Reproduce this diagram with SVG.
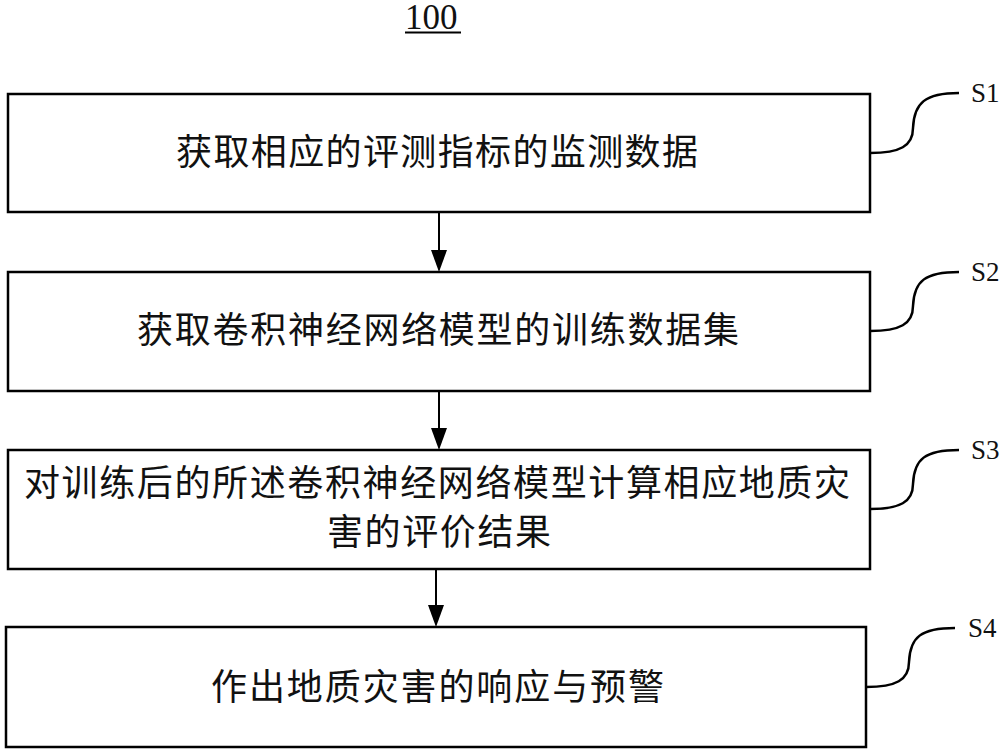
<svg xmlns="http://www.w3.org/2000/svg" width="1000" height="749" viewBox="0 0 1000 749">
<style>
.box{fill:#fff;stroke:#000;stroke-width:2.5}
.t{font-family:"Noto Sans CJK SC","Noto Sans",sans-serif;font-size:36px;fill:#111}
.lbl{font-family:"Liberation Serif","Times New Roman",serif;font-size:27px;fill:#111}
.lead{fill:none;stroke:#000;stroke-width:2.5}
.conn{stroke:#000;stroke-width:2;fill:none}
</style>
<rect width="1000" height="749" fill="#fff"/>
<g id="title">
<text x="405" y="29" font-family="Liberation Serif, Times New Roman, serif" font-size="35" fill="#111">100</text>
<line x1="405" y1="32.5" x2="461" y2="32.5" stroke="#000" stroke-width="2"/>
</g>
<g id="connectors">
<line class="conn" x1="439" y1="212" x2="439" y2="262"/>
<path d="M431,250 L447,250 L439,272 Z"/>
<line class="conn" x1="439" y1="391" x2="439" y2="440"/>
<path d="M431,428 L447,428 L439,450 Z"/>
<line class="conn" x1="436" y1="569" x2="436" y2="617"/>
<path d="M428,605 L444,605 L436,627 Z"/>
</g>
<g id="S1">
<rect class="box" x="8" y="94" width="862" height="118"/>
<text class="t" x="176" y="165" textLength="522" lengthAdjust="spacing">获取相应的评测指标的监测数据</text>
<path class="lead" d="M870,153 c30,0 43,-7 43,-25 c1,-25 12,-35 46,-35"/>
<text class="lbl" x="971" y="102">S1</text>
</g>
<g id="S2">
<rect class="box" x="8" y="272" width="862" height="119"/>
<text class="t" x="137" y="343" textLength="602" lengthAdjust="spacing">获取卷积神经网络模型的训练数据集</text>
<path class="lead" d="M870,331 c30,0 43,-7 43,-25 c1,-25 12,-34 46,-34"/>
<text class="lbl" x="971" y="281">S2</text>
</g>
<g id="S3">
<rect class="box" x="8" y="450" width="862" height="119"/>
<text class="t" x="24" y="496" textLength="826" lengthAdjust="spacing">对训练后的所述卷积神经网络模型计算相应地质灾</text>
<text class="t" x="327" y="545" textLength="224" lengthAdjust="spacing">害的评价结果</text>
<path class="lead" d="M870,509 c30,0 43,-7 43,-25 c1,-25 12,-34 46,-34"/>
<text class="lbl" x="971" y="459">S3</text>
</g>
<g id="S4">
<rect class="box" x="6" y="627" width="860" height="120"/>
<text class="t" x="211" y="700" textLength="453" lengthAdjust="spacing">作出地质灾害的响应与预警</text>
<path class="lead" d="M866,687 c30,0 43,-7 43,-25 c1,-25 12,-34 46,-34"/>
<text class="lbl" x="968" y="637">S4</text>
</g>
</svg>
